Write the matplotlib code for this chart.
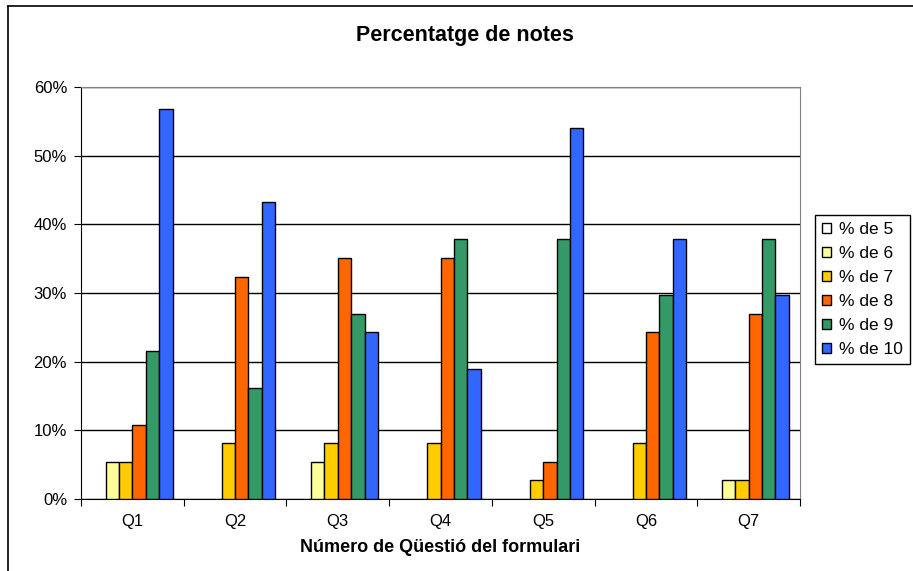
import matplotlib
matplotlib.use("Agg")
import matplotlib.pyplot as plt
from matplotlib.lines import Line2D
import numpy as np

plt.rcParams['font.family'] = ['Liberation Sans', 'DejaVu Sans']

categories = ['Q1', 'Q2', 'Q3', 'Q4', 'Q5', 'Q6', 'Q7']
series_names = ['% de 5', '% de 6', '% de 7', '% de 8', '% de 9', '% de 10']
pct_5 = [0, 0, 0, 0, 0, 0, 0]
pct_6 = [5.4, 0, 5.4, 0, 0, 0, 2.7]
pct_7 = [5.4, 8.1, 8.1, 8.1, 2.7, 8.1, 2.7]
pct_8 = [10.8, 32.4, 35.1, 35.1, 5.4, 24.3, 27.0]
pct_9 = [21.6, 16.2, 27.0, 37.8, 37.8, 29.7, 37.8]
pct_10 = [56.8, 43.2, 24.3, 18.9, 54.1, 37.8, 29.7]
colors = ['#FFFFFF', '#FFFF99', '#FFCC00', '#FF6600', '#339966', '#3366FF']

W, H = 913, 571
fig = plt.figure(figsize=(W / 100, H / 100), dpi=100)
ax = fig.add_axes([81 / W, (H - 499) / H, (800 - 81) / W, (499 - 87) / H])

x = np.arange(len(categories))
bw = 0.1305
all_series = [pct_5, pct_6, pct_7, pct_8, pct_9, pct_10]
for i, (vals, name, c) in enumerate(zip(all_series, series_names, colors)):
    lws = [1 if v > 0 else 0 for v in vals]
    ax.bar(x + (i - 2.5) * bw, vals, bw, color=c, edgecolor='black',
           linewidth=lws, label=name, zorder=3)

ax.set_xlim(-0.5, len(categories) - 0.5)
ax.set_ylim(0, 60)
ax.set_yticks(range(0, 61, 10))
ax.set_yticklabels(['{}%'.format(v) for v in range(0, 61, 10)], fontsize=12)
ax.yaxis.grid(True, color='black', linewidth=1, zorder=0)

ax.set_xticks(np.arange(-0.5, len(categories), 1))
ax.set_xticklabels([])
ax.set_xticks(x, minor=True)
ax.set_xticklabels(categories, minor=True, fontsize=12)
ax.tick_params(axis='x', which='minor', length=0, pad=11)
ax.tick_params(axis='x', which='major', length=5, direction='out')
ax.tick_params(axis='y', length=5, direction='out', pad=5)

for s in ['top', 'right']:
    ax.spines[s].set_color('#808080')
for s in ['left', 'bottom']:
    ax.spines[s].set_color('black')

ax.set_xlabel('Número de Qüestió del formulari', fontsize=13,
              fontweight='bold', labelpad=7)
fig.text(465 / W, 1 - 35 / H, 'Percentatge de notes', ha='center', va='center',
         fontsize=15.5, fontweight='bold')

leg = ax.legend(loc='upper left', bbox_to_anchor=(815 / W, 1 - 215 / H),
                bbox_transform=fig.transFigure, fontsize=12.5, frameon=True,
                fancybox=False, edgecolor='black', framealpha=1,
                handlelength=0.55, handleheight=0.55, handletextpad=0.45,
                labelspacing=0.52, borderpad=0.4, borderaxespad=0)
leg.get_frame().set_linewidth(1)
for h in leg.legend_handles:
    h.set_linewidth(1)

# outer chart border (left and top edges visible)
fig.add_artist(Line2D([8 / W, 8 / W], [0, 1 - 6 / H], color='black', linewidth=1.2))
fig.add_artist(Line2D([8 / W, 1], [1 - 6 / H, 1 - 6 / H], color='black', linewidth=1.2))

fig.savefig('out.png', dpi=100)
